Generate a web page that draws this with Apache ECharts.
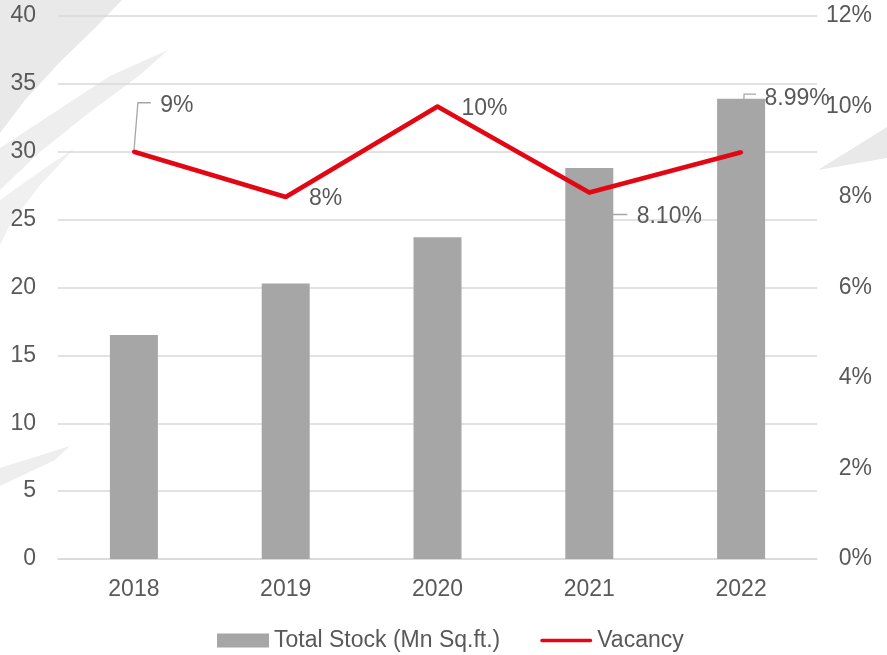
<!DOCTYPE html>
<html>
<head>
<meta charset="utf-8">
<script src="https://cdn.jsdelivr.net/npm/echarts@6/dist/echarts.min.js"></script>
<style>
html,body{margin:0;padding:0;background:#fff;}
#main{width:887px;height:655px;}
</style>
</head>
<body>
<div id="main"></div>
<script>
var categories = ['2018', '2019', '2020', '2021', '2022'];
var totalStock = [16.5, 20.3, 23.7, 28.8, 33.9];
var vacancy = [9, 8, 10, 8.1, 8.99];
var vacancyLabels = ['9%', '8%', '10%', '8.10%', '8.99%'];
var leftTicks = [0, 5, 10, 15, 20, 25, 30, 35, 40];
var rightTicks = [0, 2, 4, 6, 8, 10, 12];

// label offsets (px, relative to the point) and leader-line bends
var labelMoves = [
  {dx: 43, dy: -46, leader: [[4, -49], [17, -49]]},
  {dx: 40, dy: 2, leader: null},
  {dx: 47, dy: 2, leader: null},
  {dx: 80, dy: 24, leader: [[24, 22], [38, 22]]},
  {dx: 56, dy: -54, leader: [[3, -58], [15, -58]]}
];

var chart = echarts.init(document.getElementById('main'));
var txt = '#595959';
var font = 'Liberation Sans, Arial, sans-serif';
var fs = 23;
var bg = '#e9e9e9';

chart.setOption({
  animation: false,
  textStyle: {fontFamily: font},
  graphic: [
    {type: 'polygon', z: -10, shape: {points: [[0,0],[122,0],[95,28],[60,62],[25,100],[0,133]]}, style: {fill: bg}},
    {type: 'polygon', z: -10, shape: {points: [[0,148],[55,112],[110,76],[168,50],[140,75],[90,112],[40,152],[0,190]]}, style: {fill: '#eeeeee'}},
    {type: 'polygon', z: -10, shape: {points: [[0,200],[45,168],[75,148],[40,185],[10,225],[0,245]]}, style: {fill: '#f0f0f0'}},
    {type: 'polygon', z: -10, shape: {points: [[0,468],[70,446],[55,460],[0,486]]}, style: {fill: '#eeeeee'}},
    {type: 'polygon', z: -10, shape: {points: [[818,170],[887,127],[887,158]]}, style: {fill: bg}}
  ],
  grid: {left: 58, right: 70, top: 16, bottom: 96, containLabel: false},
  legend: {
    left: 212,
    top: 624,
    itemWidth: 52,
    itemHeight: 14,
    itemGap: 40,
    textStyle: {color: txt, fontSize: fs, fontFamily: font},
    data: [
      {name: 'Total Stock (Mn Sq.ft.)', icon: 'rect'},
      {name: 'Vacancy', icon: 'path://M2,0 L55,0 A2,2 0 0 1 55,4 L2,4 A2,2 0 0 1 2,0 Z'}
    ]
  },
  xAxis: {
    type: 'category',
    data: categories,
    axisLine: {show: true, lineStyle: {color: '#d9d9d9', width: 1.5}},
    axisTick: {show: false},
    axisLabel: {color: txt, fontSize: fs, margin: 19, fontFamily: font}
  },
  yAxis: [
    {
      type: 'value',
      min: leftTicks[0],
      max: leftTicks[leftTicks.length - 1],
      interval: 5,
      axisLine: {show: false},
      axisTick: {show: false},
      splitLine: {lineStyle: {color: '#d9d9d9', width: 1.5}},
      axisLabel: {color: txt, fontSize: fs, margin: 22, fontFamily: font}
    },
    {
      type: 'value',
      min: rightTicks[0],
      max: rightTicks[rightTicks.length - 1],
      interval: 2,
      axisLine: {show: false},
      axisTick: {show: false},
      splitLine: {show: false},
      axisLabel: {color: txt, fontSize: fs, margin: 55, align: 'right', fontFamily: font,
        formatter: function (v) { return v + '%'; }}
    }
  ],
  series: [
    {
      name: 'Total Stock (Mn Sq.ft.)',
      type: 'bar',
      data: totalStock,
      barWidth: 48,
      itemStyle: {color: '#a6a6a6'},
      z: 2
    },
    {
      name: 'leaders',
      type: 'custom',
      yAxisIndex: 1,
      data: vacancy.map(function (v, i) { return [i, v]; }),
      z: 3,
      silent: true,
      renderItem: function (params, api) {
        var m = labelMoves[params.dataIndex];
        if (!m.leader) return null;
        var p = api.coord([api.value(0), api.value(1)]);
        var pts = [p].concat(m.leader.map(function (o) { return [p[0] + o[0], p[1] + o[1]]; }));
        return {
          type: 'polyline',
          shape: {points: pts},
          style: {stroke: '#a6a6a6', lineWidth: 1.3, fill: null}
        };
      }
    },
    {
      name: 'Vacancy',
      type: 'line',
      yAxisIndex: 1,
      data: vacancy,
      symbol: 'circle',
      symbolSize: 4,
      showSymbol: true,
      itemStyle: {color: '#e30613'},
      lineStyle: {color: '#e30613', width: 4.5},
      z: 5,
      label: {
        show: true,
        position: 'inside',
        color: txt,
        fontSize: fs,
        fontFamily: font,
        formatter: function (p) { return vacancyLabels[p.dataIndex]; }
      },
      labelLayout: function (p) {
        var m = labelMoves[p.dataIndex];
        return {dx: m.dx, dy: m.dy};
      }
    }
  ]
});
</script>
</body>
</html>
